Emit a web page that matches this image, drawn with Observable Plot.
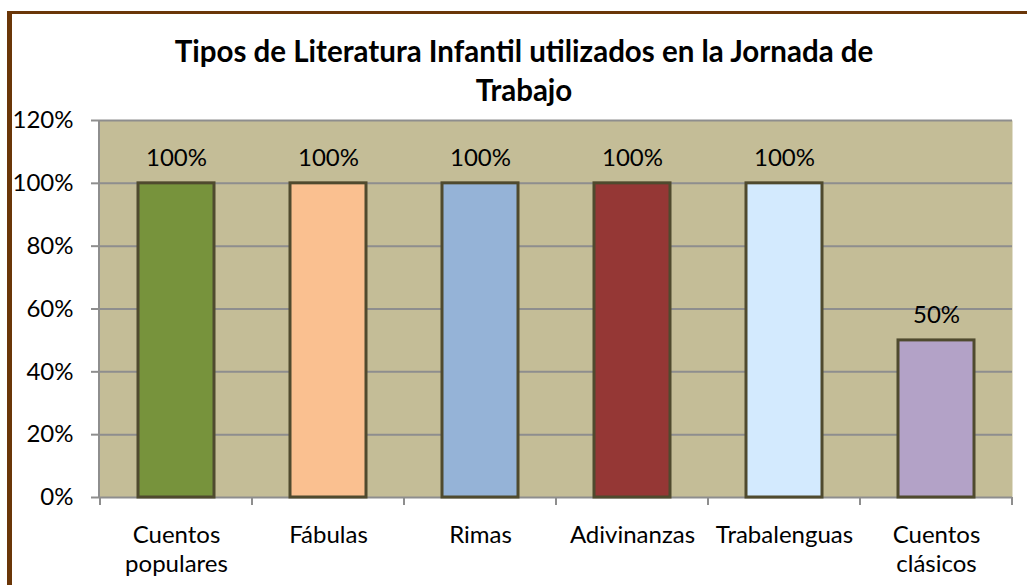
<!DOCTYPE html>
<html>
<head>
<meta charset="utf-8">
<script src="https://cdn.jsdelivr.net/npm/d3@7"></script>
<script src="https://cdn.jsdelivr.net/npm/@observablehq/plot@0.6"></script>
<style>
  html, body { margin: 0; padding: 0; background: #fff; }
  #wrap { position: relative; width: 1027px; height: 585px; overflow: hidden; font-family: Lato, sans-serif; }
  #border { position: absolute; left: 7px; top: 11px; width: 1100px; height: 700px;
            border-left: 5px solid #6A3608; border-top: 3px solid #6A3608; box-sizing: border-box; }
  #title { position: absolute; left: 74px; width: 900px; top: 31px; text-align: center;
           font-weight: bold; font-size: 29.5px; line-height: 39px; color: #000; }
  #chart { position: absolute; left: 0; top: 0; }
</style>
</head>
<body>
<div id="wrap">
  <div id="border"></div>
  <div id="title">Tipos de Literatura Infantil utilizados en la Jornada de<br>Trabajo</div>
  <div id="chart"></div>
</div>
<script>
const categories = ["Cuentos\npopulares", "Fábulas", "Rimas", "Adivinanzas", "Trabalenguas", "Cuentos\nclásicos"];
const values = [1.0, 1.0, 1.0, 1.0, 1.0, 0.5];
const yTicks = [0, 0.2, 0.4, 0.6, 0.8, 1.0, 1.2];
const barColors = ["#77933C", "#FAC090", "#95B3D7", "#953735", "#D3EAFE", "#B3A2C7"];

const data = categories.map((c, i) => ({cat: c, val: values[i]}));
const pct = d3.format(".0%");
const gray = "#8E8E8E";

// boundary ticks on x axis + left axis line, computed from the band scale
function boundaryTicks(index, scales, values, dims) {
  const x = scales.x;
  const dom = categories;
  const bw = x.bandwidth ? x.bandwidth() : 0;
  const centers = dom.map(c => x(c) + bw / 2);
  const step = centers.length > 1 ? centers[1] - centers[0] : bw * 2;
  const bounds = centers.map(c => c - step / 2).concat([centers[centers.length - 1] + step / 2]);
  const y0 = dims.height - dims.marginBottom;
  const g = d3.create("svg:g").attr("stroke", gray).attr("stroke-width", 2);
  g.selectAll("line.b").data(bounds).join("line")
    .attr("x1", d => d).attr("x2", d => d)
    .attr("y1", y0).attr("y2", y0 + 8);
  g.append("line")
    .attr("x1", dims.marginLeft).attr("x2", dims.marginLeft)
    .attr("y1", dims.marginTop).attr("y2", y0);
  return g.node();
}

const plot = Plot.plot({
  width: 1027,
  height: 585,
  marginLeft: 99,
  marginRight: 15,
  marginTop: 120,
  marginBottom: 88,
  style: {fontFamily: "Lato, sans-serif", fontSize: "24px", color: "#000", background: "transparent"},
  x: {domain: categories, paddingInner: 0.5, paddingOuter: 0.25, label: null},
  y: {domain: [0, 1.2], label: null},
  color: {domain: categories, range: barColors},
  marks: [
    Plot.frame({fill: "#C4BD97", stroke: "none"}),
    Plot.gridY(yTicks, {stroke: gray, strokeOpacity: 1, strokeWidth: 2}),
    Plot.axisY(yTicks, {tickFormat: pct, tickSize: 8, tickPadding: 18, stroke: gray, strokeWidth: 2, label: null, fontSize: 24}),
    Plot.axisX({tickSize: 0, tickPadding: 25, lineHeight: 1.2, label: null, fontSize: 24}),
    Plot.barY(data, {x: "cat", y: "val", fill: "cat", stroke: "#4F4A2E", strokeWidth: 3}),
    Plot.text(data, {x: "cat", y: "val", text: d => pct(d.val), lineAnchor: "bottom", dy: -17, fontSize: 24}),
    boundaryTicks
  ]
});
document.getElementById("chart").appendChild(plot);
</script>
</body>
</html>
